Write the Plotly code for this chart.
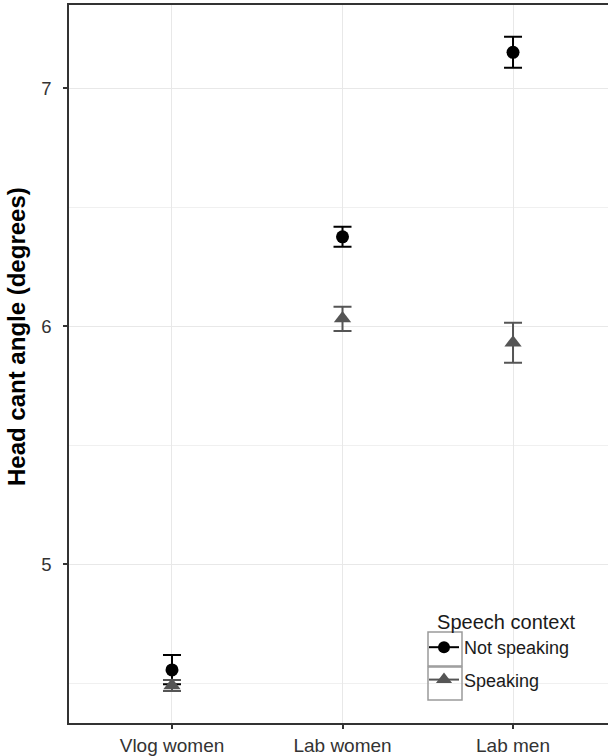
import plotly.graph_objects as go

categories = ["Vlog women", "Lab women", "Lab men"]
not_speaking_mean = [4.555, 6.375, 7.150]
not_speaking_low = [4.495, 6.333, 7.085]
not_speaking_high = [4.618, 6.417, 7.216]
speaking_mean = [4.490, 6.032, 5.930]
speaking_low = [4.466, 5.979, 5.846]
speaking_high = [4.513, 6.081, 6.014]
y_ticks = [5, 6, 7]
y_title = "Head cant angle (degrees)"
legend_title = "Speech context"

xpos = list(range(len(categories)))

def err(mean, lo, hi):
    return dict(type="data", symmetric=False,
                array=[h - m for m, h in zip(mean, hi)],
                arrayminus=[m - l for m, l in zip(mean, lo)])

fig = go.Figure()
fig.add_trace(go.Scatter(
    x=xpos, y=not_speaking_mean, mode="markers", showlegend=False,
    marker=dict(symbol="circle", size=13, color="black"),
    error_y=dict(**err(not_speaking_mean, not_speaking_low, not_speaking_high),
                 color="black", thickness=2, width=9)))
fig.add_trace(go.Scatter(
    x=xpos, y=speaking_mean, mode="markers", showlegend=False,
    marker=dict(symbol="triangle-up", size=15, color="#555555"),
    error_y=dict(**err(speaking_mean, speaking_low, speaking_high),
                 color="#555555", thickness=2, width=9)))
# legend entries
fig.add_trace(go.Scatter(
    x=[None], y=[None], mode="lines+markers", name="Not speaking", legendgroup="a",
    marker=dict(symbol="circle", size=12, color="black"),
    line=dict(color="black", width=2)))
fig.add_trace(go.Scatter(
    x=[None], y=[None], mode="lines+markers", name="Speaking", legendgroup="b",
    marker=dict(symbol="triangle-up", size=14, color="#555555"),
    line=dict(color="#555555", width=2)))

# legend key boxes (paper coords)
L, R, T, B = 69, 608, 5, 723
def px(x):
    return (x - L) / (R - L)
def py(y):
    return (B - y) / (B - T)
for y0, y1 in [(632, 666), (667, 700)]:
    fig.add_shape(type="rect", xref="paper", yref="paper",
                  x0=px(428), x1=px(462), y0=py(y1), y1=py(y0),
                  line=dict(color="#9a9a9a", width=1.5), fillcolor="rgba(0,0,0,0)")

fig.add_annotation(
    text="<b>" + y_title + "</b>", textangle=-90, showarrow=False,
    xref="paper", yref="paper", x=px(16), y=py(337),
    xanchor="center", yanchor="middle",
    font=dict(size=24, color="black"),
)

fig.update_layout(
    width=608, height=756,
    margin=dict(l=69, r=0, t=5, b=33, autoexpand=False),
    plot_bgcolor="white", paper_bgcolor="white",
    font=dict(family="Liberation Sans, Arial, sans-serif", color="#333333"),
    legend=dict(
        title=dict(text="\u00a0\u00a0" + legend_title, font=dict(size=20, color="#1a1a1a")),
        font=dict(size=18, color="#1a1a1a"),
        x=px(424), y=py(603), xanchor="left", yanchor="top",
        bgcolor="rgba(255,255,255,0)", itemwidth=30,
        tracegroupgap=6,
    ),
)
fig.update_xaxes(
    tickmode="array", tickvals=xpos, ticktext=categories,
    range=[-0.604, 2.557], automargin=False,
    showline=True, linecolor="#333333", linewidth=1.5, mirror=True,
    ticks="outside", ticklen=4, tickcolor="#333333", tickwidth=1.5,
    showgrid=True, gridcolor="#e8e8e8", gridwidth=1,
    tickfont=dict(size=19, color="#333333"), zeroline=False,
)
fig.update_yaxes(
    tickmode="array", tickvals=y_ticks,
    range=[4.332, 7.349], automargin=False,
    showline=True, linecolor="#333333", linewidth=1.5, mirror=False,
    ticks="outside", ticklen=4, tickcolor="#333333", tickwidth=1.5,
    ticklabelstandoff=8,
    showgrid=True, gridcolor="#e8e8e8", gridwidth=1,
    minor=dict(tickvals=[4.5, 5.5, 6.5], showgrid=True, gridcolor="#f0f0f0", gridwidth=1, ticks=""),
    tickfont=dict(size=18.5, color="#333333"), zeroline=False,
)

fig.write_html("out.html", config={"displayModeBar": False},
               post_script="document.body.style.margin='0';document.body.style.overflow='hidden';")
